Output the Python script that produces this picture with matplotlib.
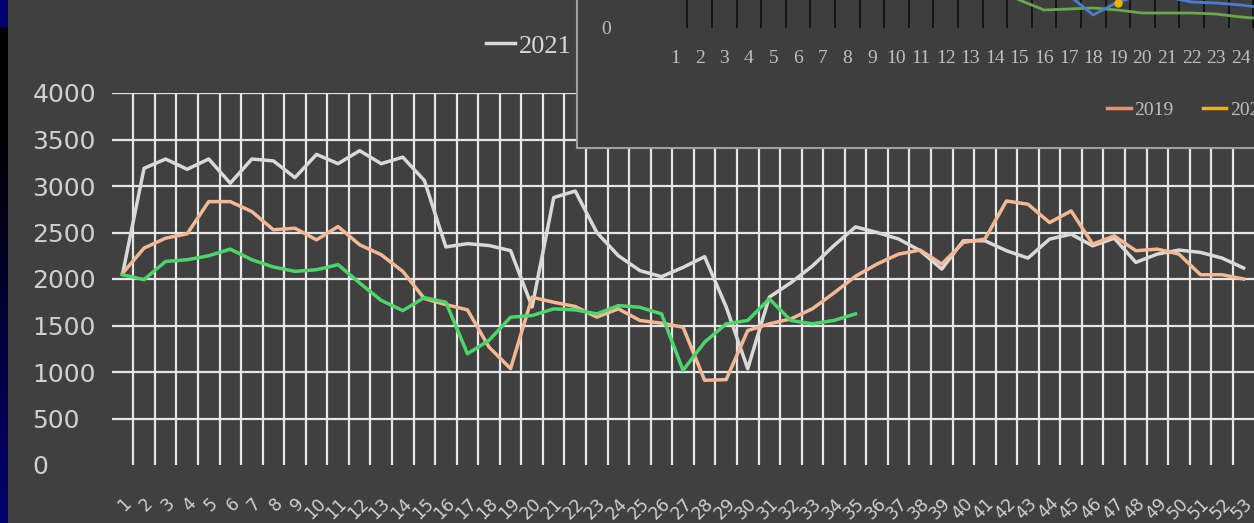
import matplotlib.pyplot as plt
import numpy as np

# weekly values, weeks 1..53
weeks = list(range(1, 54))
s2021 = [2050, 3190, 3290, 3180, 3290, 3030, 3290, 3270, 3090, 3340,
         3240, 3380, 3240, 3310, 3060, 2345, 2380, 2360, 2305, 1700,
         2875, 2946, 2500, 2250, 2090, 2025, 2125, 2240, 1700, 1036,
         1805, 1960, 2140, 2360, 2560, 2500, 2430, 2304, 2107, 2411,
         2411, 2304, 2225, 2429, 2482, 2357, 2439, 2179, 2268, 2311,
         2286, 2225, 2118]
s2019 = [2060, 2332, 2439, 2486, 2832, 2832, 2725, 2529, 2546, 2421,
         2564, 2368, 2261, 2082, 1790, 1725, 1668, 1268, 1036, 1804,
         1750, 1704, 1590, 1679, 1554, 1525, 1482, 911, 918, 1446,
         1518, 1571, 1680, 1850, 2030, 2161, 2268, 2311, 2161, 2393,
         2429, 2839, 2804, 2607, 2732, 2375, 2464, 2304, 2321, 2268,
         2046, 2046, 2000]
s2022 = [2046, 1993, 2189, 2207, 2250, 2321, 2207, 2129, 2082, 2100,
         2154, 1957, 1770, 1660, 1800, 1750, 1196, 1340, 1589, 1607,
         1679, 1668, 1625, 1714, 1696, 1625, 1018, 1321, 1518, 1554,
         1786, 1554, 1518, 1554, 1625]
yticks = [0, 500, 1000, 1500, 2000, 2500, 3000, 3500, 4000]

# pasted small chart (top right), only its lower part is visible
ins_cats = list(range(1, 29))
ins_green_x = [14, 15, 16, 17, 18, 19, 20, 21, 22, 23, 24, 25]
ins_green = [40, 28, 18, 19, 20, 18, 15, 15, 15, 14, 11, 9]
ins_blue_x = [17, 18, 19, 20, 21, 22, 23, 24, 25]
ins_blue = [33, 13, 26, 33, 31, 26, 25, 23, 20]
ins_yellow_x = [19]
ins_yellow = [25]

W, H = 1254, 523
bg = '#404040'
fig = plt.figure(figsize=(W / 100, H / 100), dpi=100)
fig.patch.set_facecolor(bg)

# slide background strip on the left
strip = fig.add_axes([0, 0, 8 / W, 1])
rows = np.zeros((H, 1, 3))
for i in range(H):
    if i < 27:
        rows[i, 0] = (0, 0, 0.45)
    elif i < 150:
        rows[i, 0] = (0, 0, 0.02)
    else:
        rows[i, 0] = (0, 0, 0.02 + 0.42 * (i - 150) / (H - 150))
strip.imshow(rows, aspect='auto')
strip.axis('off')

ax = fig.add_axes([111.7 / W, 1 - 465 / H, 1142.7 / W, 372 / H])
ax.set_facecolor(bg)
l21, = ax.plot(weeks, s2021, color='#d9d9d9', lw=2.5, label='2021', zorder=3)
l19, = ax.plot(weeks, s2019, color='#f4b894', lw=2.5, label='2019', zorder=4)
l22, = ax.plot(weeks[:len(s2022)], s2022, color='#4cd56a', lw=2.5, label='2022', zorder=5)

ax.set_xlim(0.5, 53.5)
ax.set_ylim(0, 4000)
ax.set_yticks(yticks)
ax.set_yticklabels([str(v) for v in yticks])
ax.set_xticks(weeks)
ax.set_xticklabels([str(w) for w in weeks], rotation=45, ha='right', va='top',
                   rotation_mode='anchor', fontsize=12.5, color='#d0d0d0')
ax.set_xticks(np.arange(1.5, 53, 1), minor=True)
ax.tick_params(axis='x', which='both', length=0, pad=21)
ax.tick_params(axis='y', length=0, pad=57, labelsize=18, labelcolor='#d0d0d0')
for lbl in ax.get_yticklabels():
    lbl.set_ha('left')
ax.grid(axis='x', which='minor', color='#e6e6e6', lw=1.6)
for v in yticks[1:]:
    ax.axhline(v, color='#e6e6e6', lw=1.6, zorder=1)
for sp in ax.spines.values():
    sp.set_visible(False)

fig.legend(handles=[l21, l19, l22], loc='center left', bbox_to_anchor=(486 / W, 1 - 46 / H),
           ncol=3, frameon=False, handlelength=1.1, handletextpad=0.15,
           borderpad=0, borderaxespad=0, columnspacing=1.5,
           prop={'family': 'Liberation Serif', 'size': 19}, labelcolor='#d9d9d9')

# pasted picture of another chart
pic = fig.add_axes([577 / W, 1 - 148 / H, 700 / W, 160 / H])
pic.set_facecolor('#3e3e3e')
pic.set_xticks([])
pic.set_yticks([])
for k in ['top', 'right']:
    pic.spines[k].set_visible(False)
for k in ['left', 'bottom']:
    pic.spines[k].set_color('#a0a0a0')
    pic.spines[k].set_linewidth(1.5)
pic.set_zorder(10)

ins = fig.add_axes([662.7 / W, 1 - 28 / H, 688.8 / W, 100 / H])
ins.set_zorder(11)
ins.patch.set_visible(False)
ins.set_xlim(0.5, 28.5)
ins.set_ylim(0, 100)
ins.set_xticks(ins_cats)
ins.set_xticklabels([str(c) for c in ins_cats], fontsize=14, color='#bfbfbf',
                    family='Liberation Serif')
ins.set_xticks(np.arange(1.5, 28, 1), minor=True)
ins.grid(axis='x', which='minor', color='#151515', lw=1.4)
ins.tick_params(axis='x', which='both', length=0, pad=16)
ins.set_yticks([0])
ins.set_yticklabels(['0'], fontsize=14, color='#bfbfbf', family='Liberation Serif')
ins.tick_params(axis='y', length=0, pad=37)
for sp in ins.spines.values():
    sp.set_visible(False)
ins.plot(ins_green_x, ins_green, color='#6aa84f', lw=2)
ins.plot(ins_blue_x, ins_blue, color='#4a7fd0', lw=2)
ins.plot(ins_yellow_x, ins_yellow, 'o', color='#f0b400', ms=5)
h1, = ins.plot([], [], color='#e8916a', lw=2.5, label='2019')
h2, = ins.plot([], [], color='#f0b400', lw=2.5, label='2020')
ins.legend(handles=[h1, h2], loc='center left', bbox_to_anchor=(0.62, -0.82),
           ncol=2, frameon=False, handlelength=1.2, handletextpad=0.2, columnspacing=1.5,
           prop={'family': 'Liberation Serif', 'size': 14}, labelcolor='#bfbfbf')

fig.savefig('out.png', dpi=100, facecolor=bg)
